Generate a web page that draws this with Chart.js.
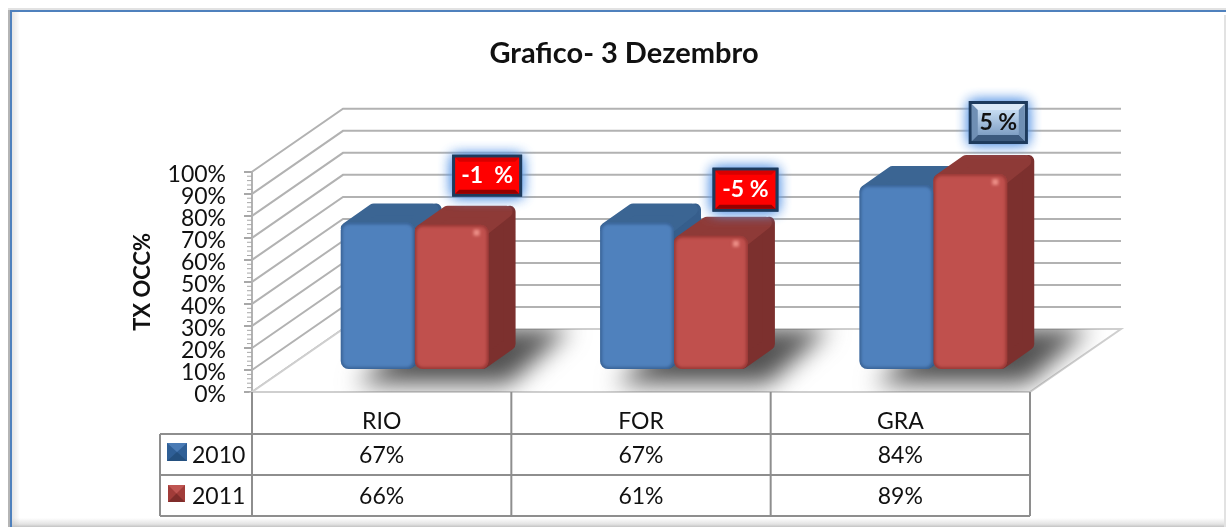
<!DOCTYPE html>
<html>
<head>
<meta charset="utf-8">
<title>Grafico- 3 Dezembro</title>
<script src="https://cdn.jsdelivr.net/npm/chart.js@4"></script>
<style>
  html, body { margin: 0; padding: 0; background: #fff; overflow: hidden; }
  #wrap { position: relative; width: 1226px; height: 527px; }
  canvas { display: block; filter: blur(0.5px); }
</style>
</head>
<body>
<div id="wrap"><canvas id="chart" width="1226" height="527"></canvas></div>
<script>
const categories = ['RIO', 'FOR', 'GRA'];
const seriesNames = ['2010', '2011'];
const values2010 = [67, 67, 84];
const values2011 = [66, 61, 89];
const changeLabels = ['-1  %', '-5 %', '5 %'];

const FONT = 'Lato, sans-serif';
const GRID = '#b2b2b2';
const TABLE = '#8e8e8e';

// projection of the 3D look
const wallDx = 91, wallDy = -63;   // front plane -> back wall
const barDx = 33, barDy = -22;     // front plane -> front of bars
const sideDx = 27, sideDy = -19;   // depth of a bar

const faces = [
  { top: '#3b6593', side: '#365e8c', edge: 'rgba(30,60,100,0.55)' },
  { top: '#8e3a37', side: '#7c302e', edge: 'rgba(110,30,28,0.6)' },
];

// callout placement relative to top of the red bar
const calloutSpots = [
  { dx: 35.5, dy: -49, w: 70, h: 42 },
  { dx: 34.5, dy: -46, w: 66, h: 44 },
  { dx: 28, dy: -51.5, w: 59, h: 43 },
];

function floorPath(ctx, a) {
  ctx.beginPath();
  ctx.moveTo(a.left, a.bottom);
  ctx.lineTo(a.right, a.bottom);
  ctx.lineTo(a.right + wallDx, a.bottom + wallDy);
  ctx.lineTo(a.left + wallDx, a.bottom + wallDy);
  ctx.closePath();
}

function poly(ctx, pts) {
  ctx.beginPath();
  pts.forEach((p, i) => i ? ctx.lineTo(p[0], p[1]) : ctx.moveTo(p[0], p[1]));
  ctx.closePath();
}

// side wall, back wall gridlines, floor
const wallsPlugin = {
  id: 'walls',
  beforeDatasetsDraw(chart) {
    const { ctx, chartArea: a, scales: { y } } = chart;
    ctx.save();
    ctx.lineWidth = 2;
    ctx.strokeStyle = GRID;
    y.ticks.forEach(t => {
      const py = y.getPixelForValue(t.value);
      ctx.beginPath();
      ctx.moveTo(a.left, py);
      ctx.lineTo(a.left + wallDx, py + wallDy);
      ctx.lineTo(a.right + wallDx, py + wallDy);
      ctx.stroke();
    });
    // small ticks along the axis
    ctx.lineWidth = 1;
    ctx.strokeStyle = '#a8a8a8';
    for (let v = 0; v <= 100; v += 2) {
      const py = y.getPixelForValue(v);
      ctx.beginPath();
      ctx.moveTo(a.left - 5, py);
      ctx.lineTo(a.left, py);
      ctx.stroke();
    }
    // floor
    ctx.lineWidth = 2;
    ctx.strokeStyle = '#cfcfcf';
    ctx.fillStyle = '#ffffff';
    floorPath(ctx, a);
    ctx.fill();
    ctx.stroke();
    // bar shadows on the floor
    ctx.save();
    floorPath(ctx, a);
    ctx.clip();
    ctx.filter = 'blur(12px)';
    ctx.fillStyle = '#525252';
    const m0 = chart.getDatasetMeta(0).data;
    const m1 = chart.getDatasetMeta(1).data;
    m0.forEach((bar, i) => {
      const xL = bar.x - bar.width / 2 + barDx;
      const xR = m1[i].x + m1[i].width / 2 + barDx;
      poly(ctx, [[xL + 15, a.bottom - 8], [xR + 20, a.bottom - 8], [xR + 82, a.bottom - 64], [xL + 85, a.bottom - 64]]);
      ctx.fill();
    });
    ctx.restore();
    ctx.restore();

    // side and top faces of the bars, blue first
    ctx.save();
    ctx.translate(barDx, barDy);
    ctx.lineJoin = 'round';
    ctx.lineWidth = 12;
    chart.data.datasets.forEach((ds, d) => {
      chart.getDatasetMeta(d).data.forEach(bar => {
        const l = bar.x - bar.width / 2 + 6, r = bar.x + bar.width / 2 - 6;
        const t = bar.y + 6, b = bar.base - 6;
        ctx.fillStyle = ctx.strokeStyle = faces[d].side;
        poly(ctx, [[r, t], [r + sideDx, t + sideDy], [r + sideDx, b + sideDy], [r, b]]);
        ctx.fill(); ctx.stroke();
        ctx.fillStyle = ctx.strokeStyle = faces[d].top;
        poly(ctx, [[l, t], [l + sideDx, t + sideDy], [r + sideDx - 3, t + sideDy], [r, t]]);
        ctx.fill(); ctx.stroke();
      });
    });
    ctx.restore();

    // Chart.js draws the fronts inside this shift
    ctx.save();
    ctx.translate(barDx, barDy);
  },
  afterDatasetsDraw(chart) {
    const { ctx } = chart;
    // bevel on the fronts
    chart.data.datasets.forEach((ds, d) => {
      chart.getDatasetMeta(d).data.forEach(bar => {
        const l = bar.x - bar.width / 2, t = bar.y;
        const w = bar.width, h = bar.base - bar.y;
        ctx.save();
        ctx.beginPath();
        ctx.roundRect(l, t, w, h, 8);
        ctx.clip();
        ctx.lineWidth = 3;
        ctx.strokeStyle = faces[d].edge;
        ctx.filter = 'blur(1.5px)';
        ctx.beginPath();
        ctx.roundRect(l, t, w, h, 8);
        ctx.stroke();
        if (d === 1) {
          ctx.fillStyle = 'rgba(255,170,160,0.7)';
          ctx.fillRect(l + w - 15, t + 5, 6, 6);
        }
        ctx.restore();
      });
    });
    ctx.restore();
  },
};

function drawCallout(ctx, label, c, red) {
  const x = c.cx - c.w / 2, y = c.cy - c.h / 2;
  const r = x + c.w, b = y + c.h;
  ctx.save();
  ctx.shadowColor = '#5f9ae6';
  ctx.shadowBlur = 13;
  ctx.fillStyle = '#1d3a5c';
  ctx.fillRect(x, y, c.w, c.h);
  ctx.fillRect(x, y, c.w, c.h);
  ctx.restore();
  const inner = 3, bev = red ? 4 : 6;
  const g = ctx.createLinearGradient(0, y + inner + bev, 0, b - inner - bev);
  g.addColorStop(0, red ? '#ff0000' : '#c6dcf2');
  g.addColorStop(1, red ? '#ff0000' : '#7f9fc4');
  ctx.fillStyle = g;
  ctx.fillRect(x + inner, y + inner, c.w - 2 * inner, c.h - 2 * inner);
  // bevel edges
  ctx.fillStyle = red ? '#d80000' : '#dbe9f7';
  poly(ctx, [[x + inner, y + inner], [r - inner, y + inner], [r - inner - bev, y + inner + bev], [x + inner + bev, y + inner + bev]]);
  ctx.fill();
  ctx.fillStyle = red ? '#960000' : '#3c5a7e';
  poly(ctx, [[x + inner, b - inner], [r - inner, b - inner], [r - inner - bev, b - inner - bev], [x + inner + bev, b - inner - bev]]);
  ctx.fill();
  if (!red) {
    ctx.fillStyle = '#6f8fb4';
    poly(ctx, [[x + inner, y + inner], [x + inner + bev, y + inner + bev], [x + inner + bev, b - inner - bev], [x + inner, b - inner]]);
    ctx.fill();
    poly(ctx, [[r - inner, y + inner], [r - inner - bev, y + inner + bev], [r - inner - bev, b - inner - bev], [r - inner, b - inner]]);
    ctx.fill();
  }
  ctx.fillStyle = red ? '#ffffff' : '#111111';
  ctx.font = 'bold 23px ' + FONT;
  ctx.textAlign = 'center';
  ctx.textBaseline = 'middle';
  ctx.fillText(label, c.cx, c.cy);
}

function drawKey(ctx, x, y, w, h, main, dark, light) {
  ctx.fillStyle = main;
  ctx.fillRect(x, y, w, h);
  ctx.fillStyle = light;
  poly(ctx, [[x, y], [x + w, y], [x + w / 2, y + h / 2]]);
  ctx.fill();
  ctx.fillStyle = dark;
  poly(ctx, [[x, y + h], [x + w, y + h], [x + w / 2, y + h / 2]]);
  ctx.fill();
}

// data table under the plot, frame around the chart, callouts
const tablePlugin = {
  id: 'dataTable',
  afterDraw(chart) {
    const { ctx, chartArea: a, scales: { x } } = chart;
    const rowTops = [a.bottom + 42, a.bottom + 83, a.bottom + 124];
    const tableLeft = 160;
    const edges = categories.map((c, i) => x.getPixelForValue(i) - (x.getPixelForValue(1) - x.getPixelForValue(0)) / 2);
    edges.push(a.right);

    ctx.save();
    ctx.strokeStyle = TABLE;
    ctx.lineWidth = 2;
    edges.forEach(ex => {
      ctx.beginPath();
      ctx.moveTo(ex, a.bottom);
      ctx.lineTo(ex, rowTops[2]);
      ctx.stroke();
    });
    rowTops.forEach(ry => {
      ctx.beginPath();
      ctx.moveTo(tableLeft, ry);
      ctx.lineTo(a.right, ry);
      ctx.stroke();
    });
    ctx.beginPath();
    ctx.moveTo(tableLeft, rowTops[0]);
    ctx.lineTo(tableLeft, rowTops[2]);
    ctx.stroke();

    ctx.font = '23px ' + FONT;
    ctx.textBaseline = 'middle';
    [values2010, values2011].forEach((vals, r) => {
      const cy = rowTops[r] + 22;
      ctx.textAlign = 'left';
      ctx.fillStyle = '#111';
      ctx.fillText(seriesNames[r], 192, cy);
      ctx.textAlign = 'center';
      vals.forEach((v, i) => ctx.fillText(v + '%', x.getPixelForValue(i), cy));
    });
    drawKey(ctx, 167, 443, 20, 18, '#2f5f96', '#24507f', '#4a7bb5');
    drawKey(ctx, 168, 485, 17, 17, '#a13c39', '#7f2c2a', '#bf5552');

    // callouts
    const reds = chart.getDatasetMeta(1).data;
    reds.forEach((bar, i) => {
      const s = calloutSpots[i];
      drawCallout(ctx, changeLabels[i], {
        cx: bar.x + barDx + s.dx,
        cy: bar.y + barDy + s.dy,
        w: s.w, h: s.h,
      }, values2011[i] < values2010[i]);
    });

    // outer frame with its soft edges
    const W = chart.width, H = chart.height;
    let g = ctx.createLinearGradient(0, 518, 0, 527);
    g.addColorStop(0, 'rgba(190,190,190,0)');
    g.addColorStop(0.7, 'rgba(190,190,190,0.45)');
    g.addColorStop(1, '#c4c4c4');
    ctx.fillStyle = g;
    ctx.fillRect(10, 518, W - 10, 9);
    g = ctx.createLinearGradient(12, 0, 20, 0);
    g.addColorStop(0, 'rgba(190,190,190,0.4)');
    g.addColorStop(1, 'rgba(190,190,190,0)');
    ctx.fillStyle = g;
    ctx.fillRect(12, 12, 8, H - 12);
    ctx.fillStyle = '#b5b5b5';
    ctx.fillRect(8, 9, 2, H - 9);
    ctx.fillStyle = '#e2e2e2';
    ctx.fillRect(8, 8, W - 8, 2);
    ctx.fillRect(W - 2, 15, 2, H - 15);
    ctx.strokeStyle = '#4f81bd';
    ctx.lineWidth = 2;
    ctx.beginPath();
    ctx.moveTo(11, H);
    ctx.lineTo(11, 11);
    ctx.lineTo(W, 11);
    ctx.stroke();
    ctx.restore();
  },
};

new Chart(document.getElementById('chart'), {
  type: 'bar',
  data: {
    labels: categories,
    datasets: [
      { label: seriesNames[0], data: values2010, backgroundColor: '#4f81bd' },
      { label: seriesNames[1], data: values2011, backgroundColor: '#c0504d' },
    ],
  },
  options: {
    responsive: false,
    animation: false,
    layout: { padding: { left: 22, right: 0, top: 0, bottom: 0 } },
    datasets: {
      bar: {
        categoryPercentage: 0.57,
        barPercentage: 1,
        borderRadius: 8,
        borderSkipped: false,
        clip: false,
      },
    },
    scales: {
      x: {
        grid: { display: false },
        border: { display: false },
        ticks: { color: '#111', font: { family: FONT, size: 23 }, padding: 8, maxRotation: 0 },
        afterFit: s => { s.height = 135; },
      },
      y: {
        min: 0,
        max: 100,
        grid: { drawOnChartArea: false, tickLength: 8, color: '#a8a8a8', lineWidth: 2 },
        border: { display: true, color: '#b2b2b2', width: 2 },
        ticks: {
          stepSize: 10,
          autoSkip: false,
          color: '#111',
          font: { family: FONT, size: 23 },
          padding: 18,
          labelOffset: 3,
          callback: v => v + '%',
        },
        title: {
          display: true,
          text: 'TX OCC%',
          color: '#111',
          font: { family: FONT, size: 22, weight: 'bold' },
          padding: { top: 108, bottom: 0 },
        },
        afterFit: s => { s.width = 230; },
      },
      // only reserves the empty space right of the plot
      spare: {
        position: 'right',
        display: true,
        grid: { display: false },
        border: { display: false },
        ticks: { display: false },
        afterFit: s => { s.width = 196; },
      },
    },
    plugins: {
      legend: { display: false },
      tooltip: { enabled: false },
      title: {
        display: true,
        text: 'Grafico- 3 Dezembro',
        color: '#111',
        font: { family: FONT, size: 29, weight: 'bold' },
        padding: { top: 36, bottom: 101 },
      },
    },
  },
  plugins: [wallsPlugin, tablePlugin],
});
</script>
</body>
</html>
